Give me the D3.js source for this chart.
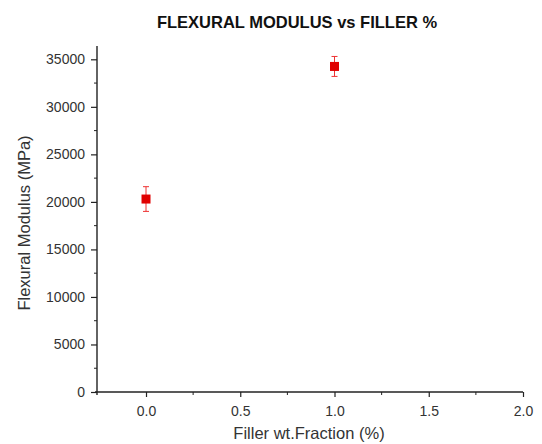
<!DOCTYPE html>
<html>
<head>
<meta charset="utf-8">
<script src="https://cdn.jsdelivr.net/npm/d3@7"></script>
<style>
  html, body { margin: 0; padding: 0; background: #fff; }
  svg { display: block; font-family: "Liberation Sans", Arial, sans-serif; }
</style>
</head>
<body>
<svg id="chart" width="542" height="444"></svg>
<script>
// Filler content (wt %) and measured flexural modulus with its spread
const fillerFraction = [0.0, 1.0];
const modulus = [20300, 34250];
const modulusError = [1300, 1050];
const xTicks = [0.0, 0.5, 1.0, 1.5, 2.0];
const yTicks = [0, 5000, 10000, 15000, 20000, 25000, 30000, 35000];

const svg = d3.select("#chart");
const plotLeft = 97, plotRight = 523, plotTop = 46, plotBottom = 392;

const x = d3.scaleLinear().domain([-0.26, 2.0]).range([plotLeft, plotRight]);
const y = d3.scaleLinear().domain([0, 36400]).range([plotBottom, plotTop]);

// title
svg.append("text")
  .attr("x", 297).attr("y", 28)
  .attr("text-anchor", "middle")
  .attr("font-size", 16.5).attr("font-weight", "bold")
  .attr("fill", "#111")
  .text("FLEXURAL MODULUS vs FILLER %");

// x axis with major and minor ticks
const xAxis = svg.append("g").attr("transform", `translate(0,${plotBottom})`);
xAxis.call(d3.axisBottom(x).tickValues(xTicks).tickFormat(d3.format(".1f"))
  .tickSize(5).tickSizeOuter(0));
xAxis.append("g").selectAll("line")
  .data(d3.range(0.25, 2.0, 0.5))
  .join("line")
  .attr("x1", d => x(d)).attr("x2", d => x(d))
  .attr("y1", 0).attr("y2", 3)
  .attr("stroke", "#222");
xAxis.select(".domain").attr("d", `M${plotLeft - 2},0H${plotRight}`);

// y axis with major and minor ticks
const yAxis = svg.append("g").attr("transform", `translate(${plotLeft},0)`);
yAxis.call(d3.axisLeft(y).tickValues(yTicks).tickFormat(d3.format("d"))
  .tickSize(6).tickSizeOuter(0));
yAxis.append("g").selectAll("line")
  .data(d3.range(2500, 36000, 5000))
  .join("line")
  .attr("y1", d => y(d)).attr("y2", d => y(d))
  .attr("x1", 0).attr("x2", -3)
  .attr("stroke", "#222");
yAxis.select(".domain").attr("d", `M0,${plotBottom + 3}V${plotTop}`);

svg.selectAll(".domain").attr("stroke", "#222").attr("stroke-width", 1.4);
svg.selectAll(".tick line").attr("stroke", "#222").attr("stroke-width", 1.2);
svg.selectAll(".tick text").attr("font-size", 14).attr("fill", "#333")
  .attr("font-family", "\"Liberation Sans\", Arial, sans-serif");
xAxis.selectAll(".tick text").attr("y", 24).attr("dy", 0);
yAxis.selectAll(".tick text").attr("dx", -3);

// axis titles
svg.append("text")
  .attr("x", 309).attr("y", 439)
  .attr("text-anchor", "middle")
  .attr("font-size", 16.5).attr("fill", "#333")
  .text("Filler wt.Fraction (%)");
svg.append("text")
  .attr("transform", `translate(30,223) rotate(-90)`)
  .attr("text-anchor", "middle")
  .attr("font-size", 16.5).attr("fill", "#333")
  .text("Flexural Modulus (MPa)");

// error bars
const pts = fillerFraction.map((f, i) => ({ f, m: modulus[i], e: modulusError[i] }));
const eb = svg.append("g").attr("stroke", "#e33").attr("stroke-width", 1);
eb.selectAll("line.v").data(pts).join("line").attr("class", "v")
  .attr("x1", d => x(d.f)).attr("x2", d => x(d.f))
  .attr("y1", d => y(d.m + d.e)).attr("y2", d => y(d.m - d.e));
eb.selectAll("line.t").data(pts).join("line").attr("class", "t")
  .attr("x1", d => x(d.f) - 3).attr("x2", d => x(d.f) + 3)
  .attr("y1", d => y(d.m + d.e)).attr("y2", d => y(d.m + d.e));
eb.selectAll("line.b").data(pts).join("line").attr("class", "b")
  .attr("x1", d => x(d.f) - 3).attr("x2", d => x(d.f) + 3)
  .attr("y1", d => y(d.m - d.e)).attr("y2", d => y(d.m - d.e));

// square markers
svg.append("g").selectAll("rect").data(pts).join("rect")
  .attr("x", d => x(d.f) - 4.5).attr("y", d => y(d.m) - 4.5)
  .attr("width", 9).attr("height", 9)
  .attr("fill", "#e00000");
</script>
</body>
</html>
